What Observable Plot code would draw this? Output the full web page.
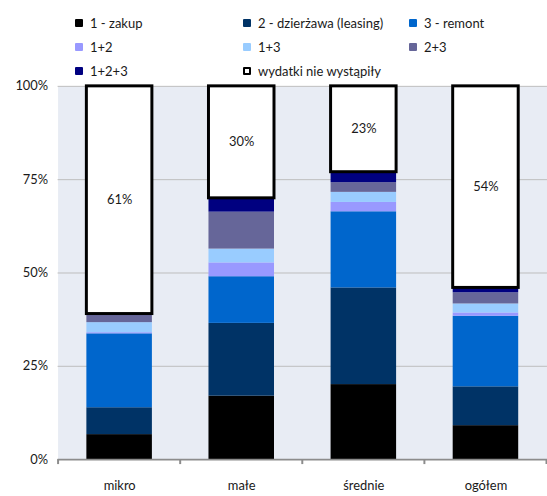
<!DOCTYPE html>
<html><head><meta charset="utf-8">
<script src="https://cdn.jsdelivr.net/npm/d3@7"></script>
<script src="https://cdn.jsdelivr.net/npm/@observablehq/plot@0.6"></script>
<style>
html,body{margin:0;padding:0;overflow:hidden;background:#fff;width:547px;height:496px}
body{font-family:Lato,"Open Sans",sans-serif;}
#legend{position:relative;height:66px;font-size:13px;color:#1a1a1a}
.item{position:absolute;display:flex;align-items:center;white-space:nowrap;height:16px;line-height:16px}
.sw{width:8px;height:8px;border-radius:1px;margin-right:7px;box-sizing:border-box;flex:none}
#chart svg{display:block}
</style></head><body>
<div id="legend"></div><div id="chart"></div>
<script>
const categories = ["mikro", "małe", "średnie", "ogółem"];
const series = ["1 - zakup", "2 - dzierżawa (leasing)", "3 - remont", "1+2", "1+3", "2+3", "1+2+3", "wydatki nie wystąpiły"];
const colors = ["#000000", "#003366", "#0066cc", "#9999ff", "#99ccff", "#666699", "#000080", "#ffffff"];
const zakup     = [6.7, 17.0, 20.1, 9.1];
const dzierzawa = [7.2, 19.5, 25.9, 10.4];
const remont    = [19.8, 12.5, 20.4, 18.9];
const z12       = [0.3, 3.7, 2.5, 0.9];
const z13       = [2.7, 3.7, 2.7, 2.4];
const z23       = [1.9, 9.9, 2.6, 3.0];
const z123      = [0.4, 3.7, 2.8, 1.3];
const brak      = [61, 30, 23, 54];
const yTicks = [0, 25, 50, 75, 100];

// legend
const legend = document.getElementById("legend");
const colLeft = [75, 243, 409], rowTop = [15, 39, 63];
series.forEach((s, i) => {
  const it = document.createElement("div");
  it.className = "item";
  it.style.left = colLeft[i % 3] + "px";
  it.style.top = rowTop[Math.floor(i / 3)] + "px";
  it.style.zIndex = 2;
  const sw = document.createElement("span");
  sw.className = "sw";
  sw.style.background = colors[i];
  if (i === series.length - 1) sw.style.border = "2px solid #000";
  const tx = document.createElement("span");
  tx.textContent = s;
  it.appendChild(sw); it.appendChild(tx);
  legend.appendChild(it);
});

const colored = series.slice(0, 7);
const values = [zakup, dzierzawa, remont, z12, z13, z23, z123];
const rows = [];
categories.forEach((c, i) => colored.forEach((s, j) => rows.push({cat: c, series: s, value: values[j][i]})));
const whiteRows = categories.map((c, i) => {
  const base = d3.sum(values, v => v[i]);
  return {cat: c, y1: base, y2: base + brak[i], value: brak[i]};
});

const chart = Plot.plot({
  width: 551, height: 430,
  marginTop: 20, marginBottom: 34, marginLeft: 58, marginRight: 0,
  style: {fontFamily: "Lato, 'Open Sans', sans-serif", fontSize: "13px", color: "#1a1a1a", background: "transparent"},
  x: {domain: categories, paddingInner: 0.46, paddingOuter: 0.23, label: null, tickSize: 0, tickPadding: 21},
  y: {domain: [0, 100], ticks: yTicks, tickFormat: d => d + "%", label: null, tickSize: 0, tickPadding: 10},
  color: {domain: series, range: colors},
  marks: [
    Plot.frame({fill: "#e8ecf4", stroke: "none"}),
    Plot.ruleY(yTicks.slice(1), {stroke: "#bdbdbd"}),
    Plot.barY(rows, {x: "cat", y: "value", fill: "series"}),
    Plot.barY(whiteRows, {x: "cat", y1: "y1", y2: "y2", fill: "white", stroke: "black", strokeWidth: 3}),
    Plot.text(whiteRows, {x: "cat", y: d => (d.y1 + d.y2) / 2, text: d => d.value + "%", fontSize: 13, fill: "#1a1a1a"}),
    Plot.ruleY([0], {stroke: "#8c8c8c", strokeWidth: 2})
  ]
});
document.getElementById("chart").appendChild(chart);

// category boundary ticks
const xs = chart.scale("x"), ys = chart.scale("y");
const yb = ys.apply(0);
const gap = xs.step - xs.bandwidth;
const bounds = categories.map(c => xs.apply(c) - gap / 2);
bounds.push(xs.apply(categories[categories.length - 1]) + xs.bandwidth + gap / 2);
d3.select(chart).append("g").selectAll("line").data(bounds).join("line")
  .attr("x1", d => d).attr("x2", d => d).attr("y1", yb).attr("y2", yb + 5)
  .attr("stroke", "#8c8c8c").attr("stroke-width", 2);
</script>
</body></html>
